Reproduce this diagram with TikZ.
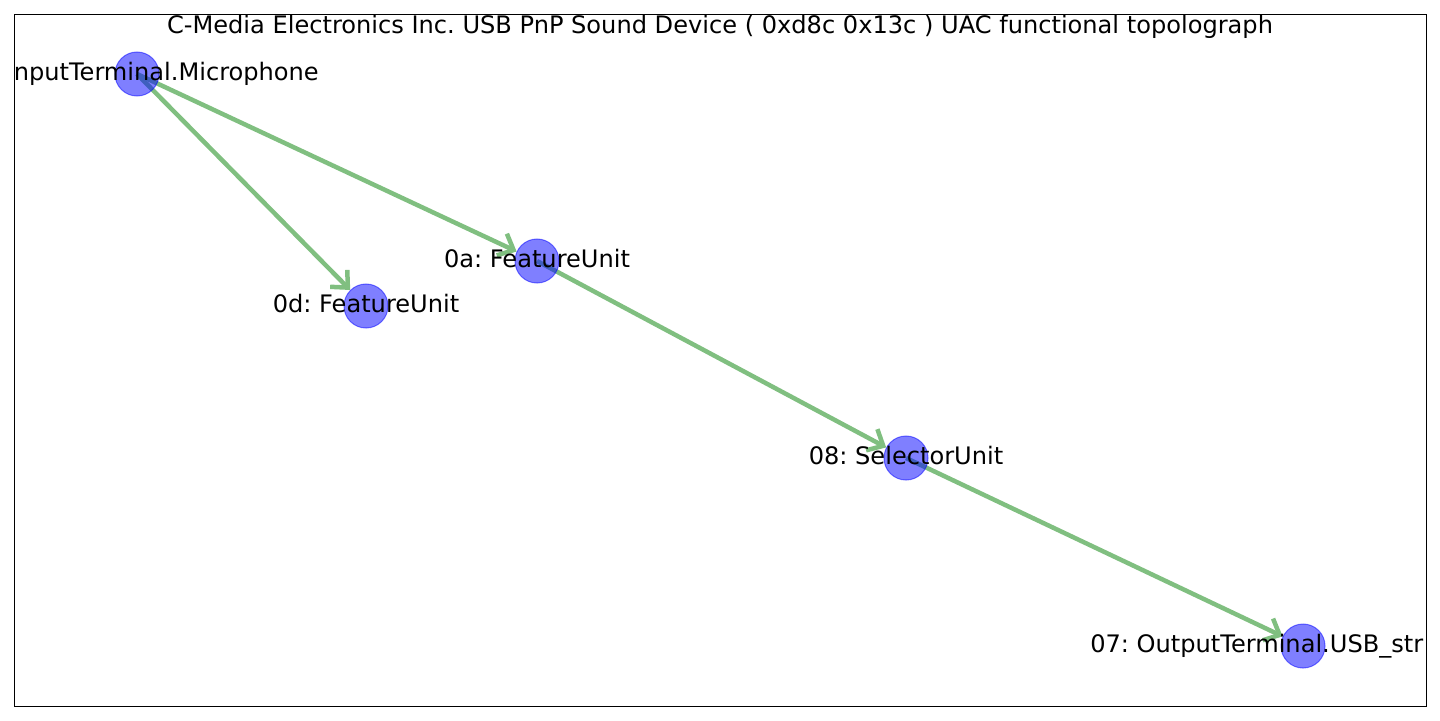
\documentclass[tikz,border=0pt]{standalone}
\usepackage{fontspec}
\setmainfont{DejaVu Sans}
\usetikzlibrary{arrows.meta,backgrounds}
\definecolor{nodeblue}{RGB}{0,0,255}
\definecolor{edgegreen}{RGB}{0,128,0}
\frenchspacing
\begin{document}
\begin{tikzpicture}[x=0.01in,y=-0.01in,
  unit/.style={circle,fill=nodeblue,fill opacity=0.5,draw=nodeblue,draw opacity=0.5,line width=0.01in,minimum size=0.44in,inner sep=0pt},
  lbl/.style={anchor=base,inner sep=0pt,font=\fontsize{17.4}{20}\selectfont},
  link/.style={draw=edgegreen!50,line width=0.045in,-{Straight Barb[length=0.13in,width=0.24in]}}]
\useasboundingbox (0,0) rectangle (1440,720);
\draw[line width=0.01in] (14,14) rectangle (1426,706);
\node[lbl] (title) at (720,33) {C-Media Electronics Inc. USB PnP Sound Device ( 0xd8c 0x13c ) UAC functional topolograph};
% units
\node[unit] (mic) at (137,74) {};
\node[unit] (fa) at (537,261) {};
\node[unit] (fd) at (366,306) {};
\node[unit] (sel) at (906,458) {};
\node[unit] (out) at (1303,646) {};
\begin{pgfonlayer}{background}
\draw[link] (mic.center) -- (fd);
\draw[link] (mic.center) -- (fa);
\draw[link] (fa.center) -- (sel);
\draw[link] (sel.center) -- (out);
\end{pgfonlayer}
% labels, cut at the frame
\begin{scope}
\clip (14,14) rectangle (1426,706);
\node[lbl,anchor=base east] (micl) at (319,80) {InputTerminal.Microphone};
\node[lbl] (fal) at ([yshift=-6*0.01in]fa.center) {0a: FeatureUnit};
\node[lbl] (fdl) at ([yshift=-6*0.01in]fd.center) {0d: FeatureUnit};
\node[lbl] (sell) at ([yshift=-6*0.01in]sel.center) {08: SelectorUnit};
\node[lbl,anchor=base west] (outl) at (1090,652) {07: OutputTerminal.USB\_str};
\end{scope}
\end{tikzpicture}
\end{document}
